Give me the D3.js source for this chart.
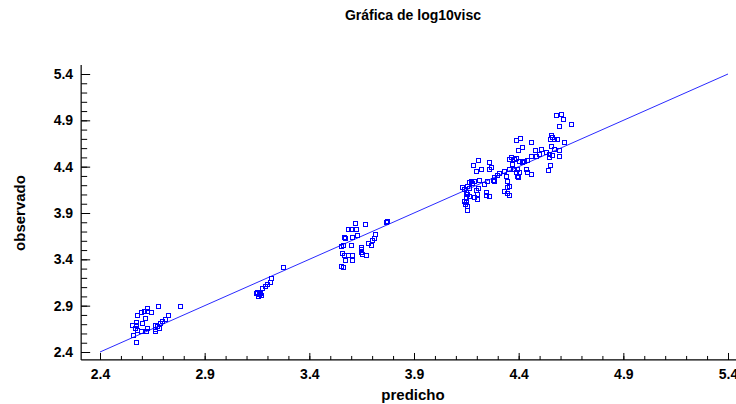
<!DOCTYPE html>
<html>
<head>
<meta charset="utf-8">
<script src="https://cdn.jsdelivr.net/npm/d3@7"></script>
<style>
  body { margin: 0; background: #fff; }
  svg { display: block; }
  text { font-family: "Liberation Sans", Arial, sans-serif; font-weight: bold; fill: #000; }
</style>
</head>
<body>
<svg id="chart" width="736" height="404"></svg>
<script>
// Predicted vs. observed log10 viscosity
const predicho = [
  // low group
  2.787,2.683,2.631,2.615,2.631,2.647,2.599,2.583,2.618,2.730,2.715,2.702,2.691,2.575,2.559,
  2.578,2.607,2.666,2.679,2.631,2.572,2.583,2.599,2.623,2.668,2.668,2.687,2.564,2.575,
  // ~3.2 group
  3.279,3.223,3.215,3.204,3.192,3.180,3.155,3.164,3.174,3.160,3.150,3.169,
  // ~3.6 group
  3.777,3.770,3.621,3.671,3.591,3.605,3.629,3.634,3.607,3.570,3.575,3.719,3.714,3.706,3.685,
  3.698,3.653,3.650,3.602,3.555,3.566,3.562,3.570,3.590,3.610,3.653,3.658,3.674,3.574,3.610,
  3.557,3.566,
  // high group
  4.211,4.187,4.263,4.271,4.223,4.200,4.263,4.359,4.367,4.382,4.394,4.406,4.422,4.374,4.398,
  4.382,4.359,4.335,4.311,4.300,4.287,4.284,4.287,4.255,4.239,4.215,4.191,4.176,4.168,4.183,
  4.159,4.136,4.144,4.168,4.200,4.211,4.152,4.159,4.168,4.152,4.191,4.207,4.204,4.247,4.250,
  4.263,4.144,4.152,4.147,4.159,4.159,4.343,4.351,4.359,4.348,4.335,4.351,4.359,4.391,4.398,
  4.582,4.606,4.618,4.597,4.656,4.558,4.566,4.554,4.574,4.589,4.621,4.411,4.462,4.391,4.510,
  4.558,4.574,4.597,4.422,4.402,4.481,4.502,4.534,4.486,4.465,4.550,4.550,4.565,4.597,4.446,
  4.430,4.438,4.446,4.462,4.406,4.402,4.554,4.546
];
const observado = [
  2.886,2.882,2.861,2.828,2.828,2.824,2.818,2.788,2.756,2.785,2.745,2.727,2.699,2.716,2.684,
  2.684,2.699,2.684,2.667,2.645,2.645,2.627,2.613,2.613,2.637,2.619,2.645,2.573,2.494,
  3.303,3.185,3.148,3.123,3.098,3.077,3.037,3.015,3.004,2.994,3.026,3.031,
  3.806,3.795,3.778,3.770,3.717,3.717,3.717,3.652,3.627,3.627,3.619,3.663,3.616,3.598,3.565,
  3.547,3.519,3.501,3.547,3.530,3.547,3.454,3.436,3.439,3.439,3.465,3.447,3.439,3.385,3.385,
  3.314,3.303,
  4.461,4.410,4.436,4.389,4.364,4.346,4.364,4.472,4.490,4.472,4.483,4.454,4.436,4.418,4.364,
  4.364,4.364,4.346,4.318,4.299,4.274,4.249,4.231,4.238,4.202,4.249,4.231,4.231,4.220,4.210,
  4.184,4.166,4.148,4.156,4.137,4.156,4.113,4.094,4.076,4.059,4.059,4.040,4.094,4.113,4.087,
  4.076,4.022,4.005,3.986,3.968,3.922,4.292,4.238,4.184,4.166,4.130,4.102,4.083,4.328,4.292,
  4.943,4.961,4.907,4.825,4.846,4.728,4.709,4.691,4.684,4.684,4.655,4.702,4.655,4.674,4.583,
  4.609,4.583,4.572,4.601,4.572,4.566,4.529,4.547,4.501,4.501,4.529,4.493,4.512,4.501,4.458,
  4.450,4.367,4.332,4.313,4.332,4.278,4.404,4.356
];

// Fitted line (observado = predicho) end points
const fitEnds = [2.4, 5.4];

// Axis ticks
const majorTicks = [2.4, 2.9, 3.4, 3.9, 4.4, 4.9, 5.4];
const minorTicks = d3.range(24, 55).map(v => v / 10);

const titleText = "Gráfica de log10visc";
const xTitle = "predicho";
const yTitle = "observado";

const svg = d3.select("#chart");

const x = d3.scaleLinear().domain([2.4, 5.4]).range([100, 728]);
const y = d3.scaleLinear().domain([2.4, 5.4]).range([352, 74]);

const xStart = 2.31, yStart = 2.314, yEnd = 5.497, xEnd = 5.45;
const x0 = x(xStart), y0 = y(yStart);

// Title
svg.append("text")
  .attr("x", 413).attr("y", 20)
  .attr("text-anchor", "middle")
  .style("font-size", "14px")
  .text(titleText);

// Bottom axis: minor then major ticks, pointing inward
const gx = svg.append("g").attr("transform", `translate(0,${y0})`);
gx.append("g")
  .call(d3.axisBottom(x).tickValues(minorTicks).tickSize(-4).tickFormat(""))
  .call(g => g.select(".domain").remove());
gx.append("g")
  .call(d3.axisBottom(x).tickValues(majorTicks).tickSize(-7).tickPadding(9).tickFormat(d3.format(".1f")))
  .call(g => g.select(".domain").remove())
  .call(g => g.selectAll("text").style("font-size", "14px").attr("fill", "#000"));
gx.append("line")
  .attr("x1", x0).attr("x2", x(xEnd))
  .attr("stroke", "#000").attr("stroke-width", 1.2);

// Left axis
const gy = svg.append("g").attr("transform", `translate(${x0},0)`);
gy.append("g")
  .call(d3.axisLeft(y).tickValues(minorTicks).tickSize(-6).tickFormat(""))
  .call(g => g.select(".domain").remove());
gy.append("g")
  .call(d3.axisLeft(y).tickValues(majorTicks).tickSize(-9).tickPadding(8).tickFormat(d3.format(".1f")))
  .call(g => g.select(".domain").remove())
  .call(g => g.selectAll("text").style("font-size", "14px").attr("fill", "#000"));
gy.append("line")
  .attr("y1", y0).attr("y2", y(yEnd))
  .attr("stroke", "#000").attr("stroke-width", 1.2);

svg.selectAll(".tick line").attr("stroke", "#000");

// Axis titles
svg.append("text")
  .attr("x", 413).attr("y", 400)
  .attr("text-anchor", "middle")
  .style("font-size", "15px")
  .text(xTitle);
svg.append("text")
  .attr("transform", `translate(25,${y(3.9)}) rotate(-90)`)
  .attr("text-anchor", "middle")
  .style("font-size", "15px")
  .text(yTitle);

// Fitted line
svg.append("path")
  .datum(fitEnds)
  .attr("fill", "none")
  .attr("stroke", "#2a2aff")
  .attr("stroke-width", 1)
  .attr("d", d3.line().x(d => x(d)).y(d => y(d)));

// Observations as open squares
const pts = d3.zip(predicho, observado);
svg.append("g")
  .selectAll("rect")
  .data(pts)
  .join("rect")
  .attr("x", d => Math.round(x(d[0])) - 2.5)
  .attr("y", d => Math.round(y(d[1])) - 2.5)
  .attr("width", 4)
  .attr("height", 4)
  .attr("fill", "none")
  .attr("stroke", "#0000ff")
  .attr("stroke-width", 1);
</script>
</body>
</html>
